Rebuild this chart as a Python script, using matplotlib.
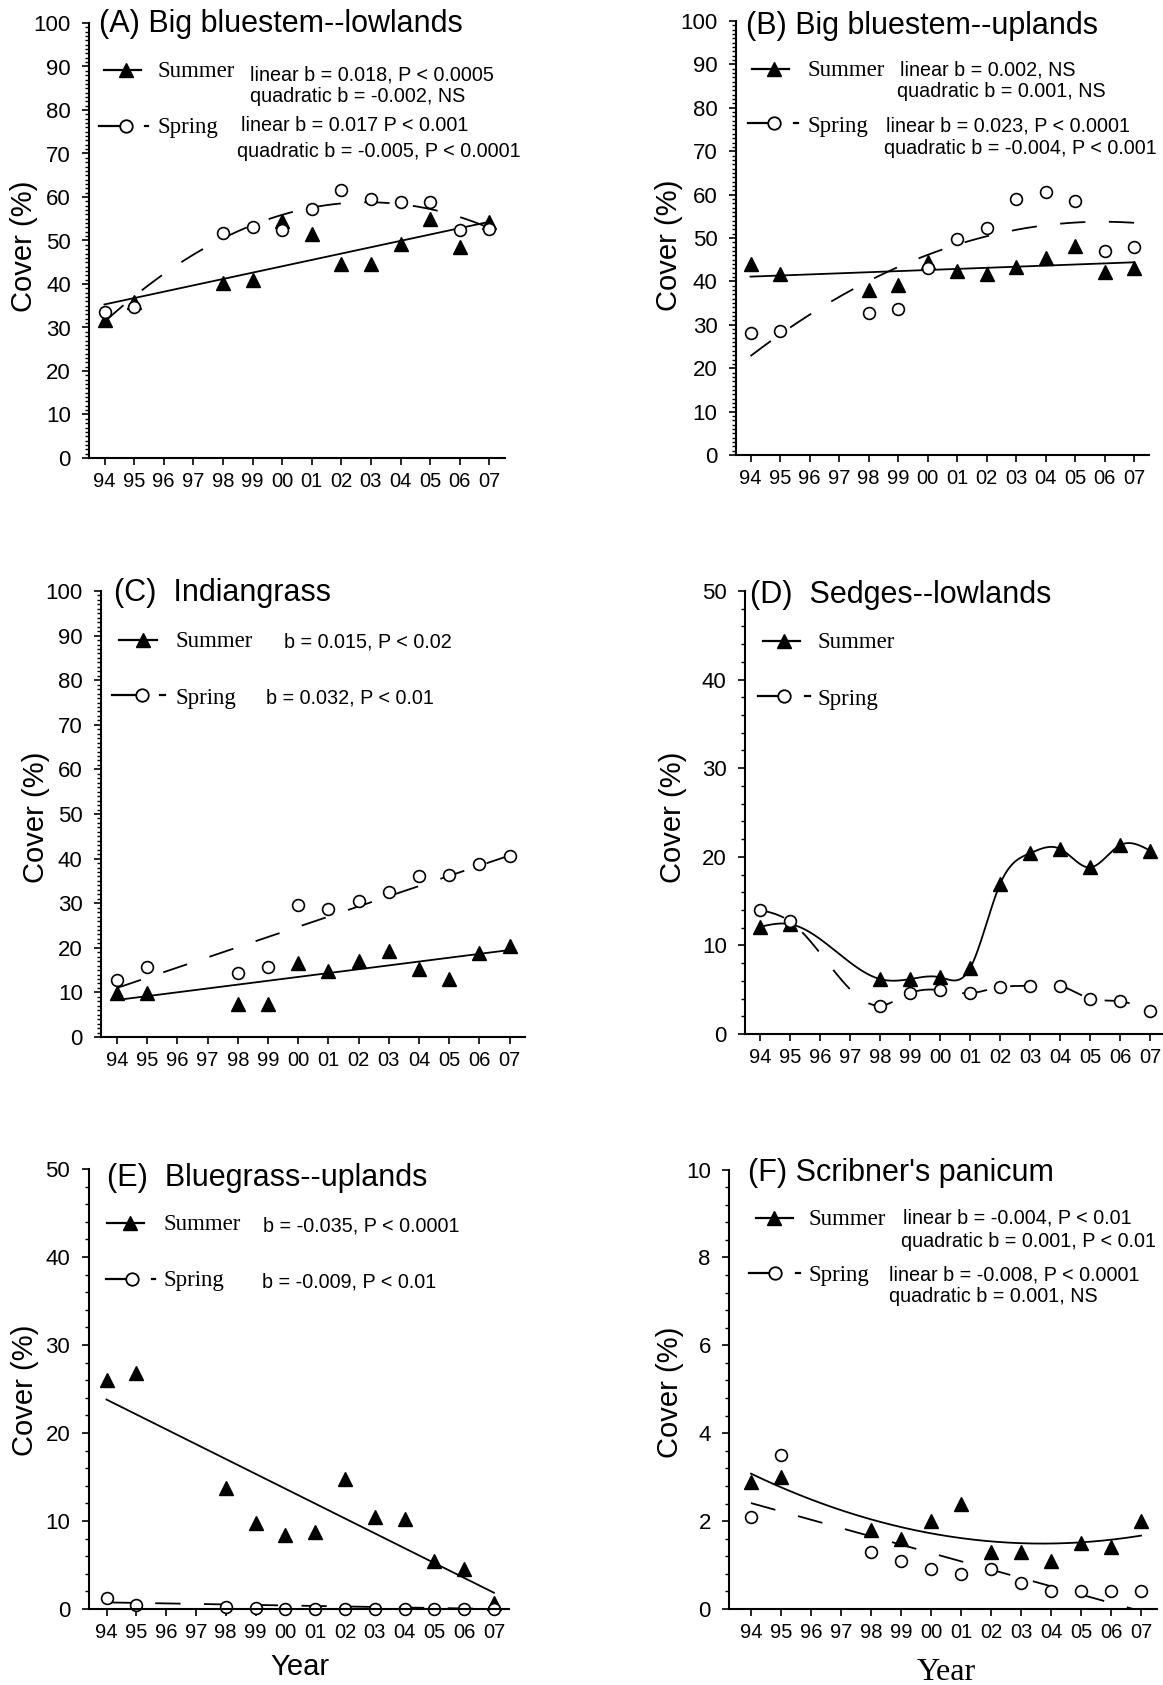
import numpy as np
import matplotlib
matplotlib.use('Agg')
import matplotlib.pyplot as plt
from matplotlib.ticker import MultipleLocator, FixedLocator

W, H = 1163, 1685
fig = plt.figure(figsize=(W / 100, H / 100), dpi=100)

SANS = 'Liberation Sans'
SERIF = 'Liberation Serif'

# ---------------- data ----------------
year_labels = ['94', '95', '96', '97', '98', '99', '00', '01', '02', '03', '04', '05', '06', '07']
sampled_years = ['94', '95', '98', '99', '00', '01', '02', '03', '04', '05', '06', '07']

# (A) Big bluestem--lowlands
a_summer = [31.7, 35.9, 40.3, 40.9, 54.4, 51.5, 44.6, 44.6, 49.2, 54.9, 48.5, 54.2]
a_spring = [33.5, 34.8, 51.7, 53.0, 52.5, 57.3, 61.5, 59.6, 58.8, 58.8, 52.3, 52.6]
a_summer_fit_years, a_summer_fit = ['94', '07'], [35.3, 54.3]
a_spring_fit_years, a_spring_fit = ['94', '00', '06'], [31.3, 55.9, 55.4]

# (B) Big bluestem--uplands
b_summer = [44.0, 41.8, 38.0, 39.2, 44.4, 42.3, 41.7, 43.4, 45.5, 48.2, 42.1, 43.2]
b_spring = [28.0, 28.6, 32.7, 33.7, 43.0, 49.8, 52.4, 59.0, 60.7, 58.5, 46.9, 47.9]
b_summer_fit_years, b_summer_fit = ['94', '07'], [41.1, 44.4]
b_spring_fit_years, b_spring_fit = ['94', '00', '07'], [22.8, 46.1, 53.5]

# (C) Indiangrass
c_summer = [9.9, 9.9, 7.4, 7.4, 16.7, 14.9, 17.1, 19.2, 15.3, 12.9, 18.8, 20.3]
c_spring = [12.7, 15.8, 14.3, 15.8, 29.5, 28.8, 30.5, 32.6, 36.2, 36.4, 38.8, 40.5]
c_summer_fit_years, c_summer_fit = ['94', '07'], [8.3, 19.5]
c_spring_fit_years, c_spring_fit = ['94', '07'], [11.0, 40.7]

# (D) Sedges--lowlands
d_summer = [12.1, 12.4, 6.2, 6.2, 6.4, 7.4, 16.9, 20.4, 20.9, 18.8, 21.3, 20.7]
d_spring = [14.0, 12.7, 3.2, 4.6, 4.95, 4.6, 5.3, 5.45, 5.45, 4.0, 3.7, 2.6]

# (E) Bluegrass--uplands
e_summer = [26.0, 26.8, 13.7, 9.8, 8.4, 8.8, 14.8, 10.4, 10.2, 5.4, 4.5, 0.7]
e_spring = [1.2, 0.5, 0.2, 0.1, 0.05, 0.05, 0.0, 0.0, 0.0, 0.0, 0.0, 0.0]
e_summer_fit_years, e_summer_fit = ['94', '07'], [23.8, 1.85]
e_spring_fit_years, e_spring_fit = ['94', '07'], [0.75, 0.0]

# (F) Scribner's panicum
f_summer = [2.9, 3.0, 1.8, 1.6, 2.0, 2.4, 1.3, 1.3, 1.1, 1.5, 1.4, 2.0]
f_spring = [2.1, 3.5, 1.3, 1.1, 0.9, 0.8, 0.9, 0.6, 0.4, 0.4, 0.4, 0.4]
f_summer_fit_years, f_summer_fit = ['94', '04', '07'], [3.08, 1.49, 1.67]
f_spring_fit_years, f_spring_fit = ['94', '07'], [2.41, -0.05]

# ---------------- helpers ----------------
pos = {lab: i for i, lab in enumerate(year_labels)}
xs_data = np.array([pos[y] for y in sampled_years], dtype=float)

DASH = (14, 13)
LW_FIT = 1.3


def natural_spline(x, y, xs):
    x = np.asarray(x, float)
    y = np.asarray(y, float)
    n = len(x)
    h = np.diff(x)
    A = np.zeros((n, n))
    r = np.zeros(n)
    A[0, 0] = 1
    A[-1, -1] = 1
    for i in range(1, n - 1):
        A[i, i - 1] = h[i - 1]
        A[i, i] = 2 * (h[i - 1] + h[i])
        A[i, i + 1] = h[i]
        r[i] = 3 * ((y[i + 1] - y[i]) / h[i] - (y[i] - y[i - 1]) / h[i - 1])
    c = np.linalg.solve(A, r)
    b = (y[1:] - y[:-1]) / h - h * (2 * c[:-1] + c[1:]) / 3
    d = (c[1:] - c[:-1]) / (3 * h)
    j = np.clip(np.searchsorted(x, xs) - 1, 0, n - 2)
    dx = xs - x[j]
    return y[j] + b[j] * dx + c[j] * dx ** 2 + d[j] * dx ** 3


def make_axes(x94, sp, xl, xr, top, bot, ymax, major, minor):
    left_px = x94 + xl * sp
    right_px = x94 + xr * sp
    ax = fig.add_axes([left_px / W, 1 - bot / H, (right_px - left_px) / W, (bot - top) / H])
    ax.set_xlim(xl, xr)
    ax.set_ylim(0, ymax)
    for s in ['top', 'right']:
        ax.spines[s].set_visible(False)
    for s in ['left', 'bottom']:
        ax.spines[s].set_linewidth(1.5)
        ax.spines[s].set_zorder(2.5)
    ax.xaxis.set_major_locator(FixedLocator(range(len(year_labels))))
    ax.set_xticklabels(year_labels, fontfamily=SANS, fontsize=14.5)
    ax.yaxis.set_major_locator(MultipleLocator(major))
    ax.yaxis.set_minor_locator(MultipleLocator(minor))
    ax.tick_params(axis='x', which='major', direction='out', length=5.3, width=1.2, pad=5)
    ax.tick_params(axis='y', which='major', direction='out', length=5.4, width=1.2, pad=8,
                   labelsize=16)
    ax.tick_params(axis='y', which='minor', direction='out', length=3.1, width=1.0)
    for lab in ax.get_yticklabels():
        lab.set_fontfamily(SANS)
    return ax


def draw_points(ax, summer, spring):
    ax.plot(xs_data, summer, linestyle='none', marker='^', ms=9.5, color='black',
            zorder=2.2, clip_on=False)
    ax.plot(xs_data, spring, linestyle='none', marker='o', ms=8.5, mfc='white', mec='black',
            mew=1.2, zorder=2.3, clip_on=False)


def draw_fit(ax, yrs, vals, dashed):
    x = np.array([pos[y] for y in yrs], float)
    coef = np.polyfit(x, vals, len(x) - 1)
    xx = np.linspace(0, 13, 300)
    ln, = ax.plot(xx, np.polyval(coef, xx), color='black', lw=LW_FIT, zorder=2)
    if dashed:
        ln.set_dashes(DASH)


def draw_spline(ax, vals, dashed):
    xx = np.linspace(0, 13, 400)
    ln, = ax.plot(xx, natural_spline(xs_data, vals, xx), color='black', lw=LW_FIT, zorder=2)
    if dashed:
        ln.set_dashes(DASH)


def legend(ax, ys, ysp, sum_line, sum_mark, spr_line, spr_mark, spr_dash, text_x,
           ysum_txt, yspr_txt):
    ax.plot(sum_line, [ys, ys], color='black', lw=1.6, clip_on=False, zorder=2)
    ax.plot([sum_mark], [ys], marker='^', ms=10, color='black', clip_on=False, zorder=3)
    ax.plot(spr_line, [ysp, ysp], color='black', lw=1.6, clip_on=False, zorder=2)
    ax.plot([spr_mark], [ysp], marker='o', ms=9, mfc='white', mec='black', mew=1.3,
            clip_on=False, zorder=3)
    ax.plot(spr_dash, [ysp, ysp], color='black', lw=1.6, clip_on=False, zorder=2)
    ax.text(text_x, ysum_txt, 'Summer', fontfamily=SERIF, fontsize=16.5, va='center', ha='left')
    ax.text(text_x, yspr_txt, 'Spring', fontfamily=SERIF, fontsize=16.5, va='center', ha='left')


def stat(ax, x, y, s):
    ax.text(x, y, s, fontfamily=SANS, fontsize=14.2, va='center', ha='left')


def title(ax, x, y, s):
    ax.text(x, y, s, fontfamily=SANS, fontsize=22, va='center', ha='left', clip_on=False)


def ylabel(px, py):
    fig.text(px / W, 1 - py / H, 'Cover (%)', fontfamily=SANS, fontsize=21, rotation=90,
             va='center', ha='center')


# ---------------- (A) ----------------
ax = make_axes(104.5, 29.6, -0.51, 13.52, 23, 458, 100, 10, 1)
draw_fit(ax, a_summer_fit_years, a_summer_fit, False)
draw_fit(ax, a_spring_fit_years, a_spring_fit, True)
draw_points(ax, a_summer, a_spring)
title(ax, -0.2, 99.8, '(A) Big bluestem--lowlands')
legend(ax, 89.2, 76.3, [-0.01, 1.22], 0.74, [-0.2, 0.71], 0.71, [1.37, 1.47], 1.8, 88.8, 75.9)
stat(ax, 4.9, 88.0, 'linear b = 0.018, P < 0.0005')
stat(ax, 4.9, 83.2, 'quadratic b = -0.002, NS')
stat(ax, 4.6, 76.5, 'linear b = 0.017 P < 0.001')
stat(ax, 4.47, 70.5, 'quadratic b = -0.005, P < 0.0001')
ylabel(24, 246)

# ---------------- (B) ----------------
ax = make_axes(750.5, 29.5, -0.49, 13.52, 21, 455, 100, 10, 1)
draw_fit(ax, b_summer_fit_years, b_summer_fit, False)
draw_fit(ax, b_spring_fit_years, b_spring_fit, True)
draw_points(ax, b_summer, b_spring)
title(ax, -0.15, 98.9, '(B) Big bluestem--uplands')
legend(ax, 88.9, 76.4, [0.04, 1.31], 0.81, [-0.09, 0.81], 0.81, [1.48, 1.6], 1.92, 88.6, 75.8)
stat(ax, 5.08, 88.6, 'linear b = 0.002, NS')
stat(ax, 4.98, 83.8, 'quadratic b = 0.001, NS')
stat(ax, 4.58, 75.8, 'linear b = 0.023, P < 0.0001')
stat(ax, 4.51, 70.7, 'quadratic b = -0.004, P < 0.001')
ylabel(669, 245)

# ---------------- (C) ----------------
ax = make_axes(117, 30.2, -0.52, 13.52, 591, 1037, 100, 10, 1)
draw_fit(ax, c_summer_fit_years, c_summer_fit, False)
draw_fit(ax, c_spring_fit_years, c_spring_fit, True)
draw_points(ax, c_summer, c_spring)
title(ax, -0.1, 99.6, '(C)  Indiangrass')
legend(ax, 89.0, 76.6, [0.06, 1.33], 0.86, [-0.15, 0.83], 0.83, [1.42, 1.58], 1.95, 88.6, 76.0)
stat(ax, 5.54, 88.6, 'b = 0.015, P < 0.02')
stat(ax, 4.93, 76.0, 'b = 0.032, P < 0.01')
ylabel(36, 817)

# ---------------- (D) ----------------
ax = make_axes(760, 30, -0.49, 13.43, 591, 1034, 50, 10, 2)
draw_spline(ax, d_summer, False)
draw_spline(ax, d_spring, True)
draw_points(ax, d_summer, d_spring)
title(ax, -0.35, 49.6, '(D)  Sedges--lowlands')
legend(ax, 44.4, 38.1, [0.1, 1.33], 0.8, [-0.06, 0.81], 0.81, [1.5, 1.66], 1.93, 44.2, 37.8)
ylabel(673, 817)

# ---------------- (E) ----------------
ax = make_axes(106.5, 29.8, -0.59, 13.52, 1169, 1609, 50, 10, 2)
draw_fit(ax, e_summer_fit_years, e_summer_fit, False)
draw_fit(ax, e_spring_fit_years, e_spring_fit, True)
draw_points(ax, e_summer, e_spring)
title(ax, 0.01, 49.0, '(E)  Bluegrass--uplands')
legend(ax, 43.9, 37.5, [0.01, 1.26], 0.79, [-0.02, 0.85], 0.85, [1.53, 1.63], 1.91, 43.7, 37.3)
stat(ax, 5.25, 43.5, 'b = -0.035, P < 0.0001')
stat(ax, 5.21, 37.2, 'b = -0.009, P < 0.01')
ylabel(25, 1390)
fig.text(300 / W, 1 - 1667 / H, 'Year', fontfamily=SANS, fontsize=21, ha='center', va='center')

# ---------------- (F) ----------------
ax = make_axes(751, 30, -0.72, 13.52, 1169.5, 1609, 10, 2, 0.4)
draw_fit(ax, f_summer_fit_years, f_summer_fit, False)
draw_fit(ax, f_spring_fit_years, f_spring_fit, True)
draw_points(ax, f_summer, f_spring)
title(ax, -0.1, 9.92, "(F) Scribner's panicum")
legend(ax, 8.9, 7.64, [0.15, 1.39], 0.77, [-0.07, 0.8], 0.8, [1.49, 1.64], 1.92, 8.87, 7.59)
stat(ax, 5.06, 8.9, 'linear b = -0.004, P < 0.01')
stat(ax, 5.0, 8.36, 'quadratic b = 0.001, P < 0.01')
stat(ax, 4.6, 7.59, 'linear b = -0.008, P < 0.0001')
stat(ax, 4.6, 7.1, 'quadratic b = 0.001, NS')
ylabel(670, 1392)
fig.text(946 / W, 1 - 1672 / H, 'Year', fontfamily=SERIF, fontsize=23, ha='center', va='center')

fig.savefig('out.png', dpi=100)
